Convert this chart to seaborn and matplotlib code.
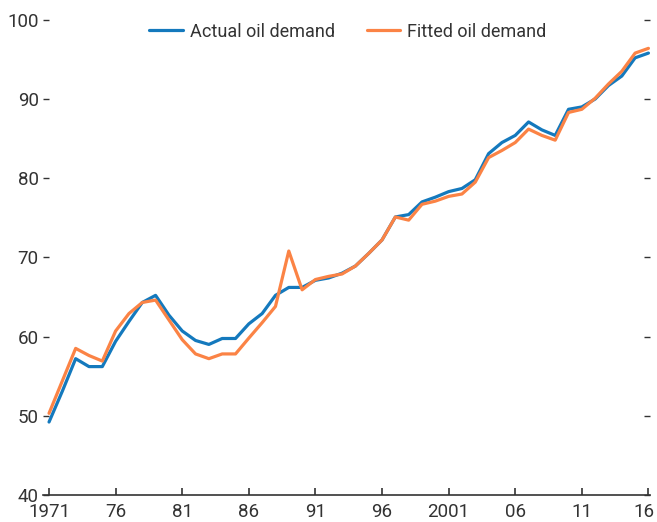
import numpy as np
import pandas as pd
import matplotlib
matplotlib.use("Agg")
import matplotlib.pyplot as plt
import matplotlib.transforms as mtransforms
import seaborn as sns

years = list(range(1971, 2017))
actual = [49.2, 53.1, 57.2, 56.2, 56.2, 59.4, 61.9, 64.3, 65.2, 62.7,
          60.7, 59.5, 59.0, 59.75, 59.75, 61.6, 62.9, 65.2, 66.2, 66.2,
          67.1, 67.4, 68.0, 68.9, 70.5, 72.2, 75.1, 75.4, 77.0, 77.6,
          78.3, 78.7, 79.8, 83.1, 84.5, 85.4, 87.1, 86.1, 85.4, 88.7,
          89.0, 90.0, 91.7, 92.9, 95.2, 95.8]
fitted = [50.3, 54.4, 58.5, 57.6, 56.9, 60.7, 62.9, 64.3, 64.6, 62.1,
          59.6, 57.8, 57.2, 57.8, 57.8, 59.8, 61.75, 63.8, 70.8, 65.9,
          67.2, 67.6, 67.9, 68.9, 70.5, 72.2, 75.1, 74.7, 76.7, 77.1,
          77.7, 78.0, 79.5, 82.6, 83.5, 84.5, 86.2, 85.4, 84.8, 88.3,
          88.7, 90.1, 91.9, 93.5, 95.8, 96.4]
series_names = ["Actual oil demand", "Fitted oil demand"]
tick_years = [1971, 1976, 1981, 1986, 1991, 1996, 2001, 2006, 2011, 2016]
tick_labels = ["1971", "76", "81", "86", "91", "96", "2001", "06", "11", "16"]
y_ticks = [40, 50, 60, 70, 80, 90, 100]

df = pd.DataFrame({
    "year": years * 2,
    "value": actual + fitted,
    "series": [series_names[0]] * len(years) + [series_names[1]] * len(years),
})

sns.set_theme(style="white")
plt.rcParams['font.family'] = ['Roboto', 'DejaVu Sans']
fs = 13.5
text_color = "#333333"

fig = plt.figure(figsize=(6.57, 5.22), dpi=100)
ax = fig.add_axes([0.0655, 0.052, 0.9235, 0.910])

palette = {series_names[0]: "#1479bd", series_names[1]: "#fb8345"}
sns.lineplot(data=df, x="year", y="value", hue="series", palette=palette,
             linewidth=2.3, ax=ax)

ax.set_xlim(1970.55, 2016.1)
ax.set_ylim(40, 100)
ax.set_xticks(tick_years)
ax.set_xticklabels(tick_labels)
ax.set_yticks(y_ticks)
ax.set_xlabel("")
ax.set_ylabel("")

for s in ["left", "right", "top"]:
    ax.spines[s].set_visible(False)
ax.spines["bottom"].set_color(text_color)
ax.spines["bottom"].set_linewidth(1.2)

ax.tick_params(axis="x", direction="in", length=5, width=1.2, color=text_color,
               labelsize=fs, labelcolor=text_color, pad=6, bottom=True)
ax.tick_params(axis="y", direction="in", length=4, width=1.0, color=text_color,
               labelsize=fs, labelcolor=text_color, pad=3, left=True,
               right=True, labelright=False)

# nudge the last x label slightly left so it stays inside the canvas
last = ax.get_xticklabels()[-1]
last.set_transform(last.get_transform() +
                   mtransforms.ScaledTranslation(-3 / 72, 0, fig.dpi_scale_trans))

leg = ax.legend(loc="center", bbox_to_anchor=(0.5025, 0.975),
                bbox_transform=ax.transAxes, ncol=2,
                frameon=False, fontsize=13, handlelength=1.85,
                columnspacing=1.75, handletextpad=0.4)
for t in leg.get_texts():
    t.set_color(text_color)

fig.savefig("out.png", dpi=100)
